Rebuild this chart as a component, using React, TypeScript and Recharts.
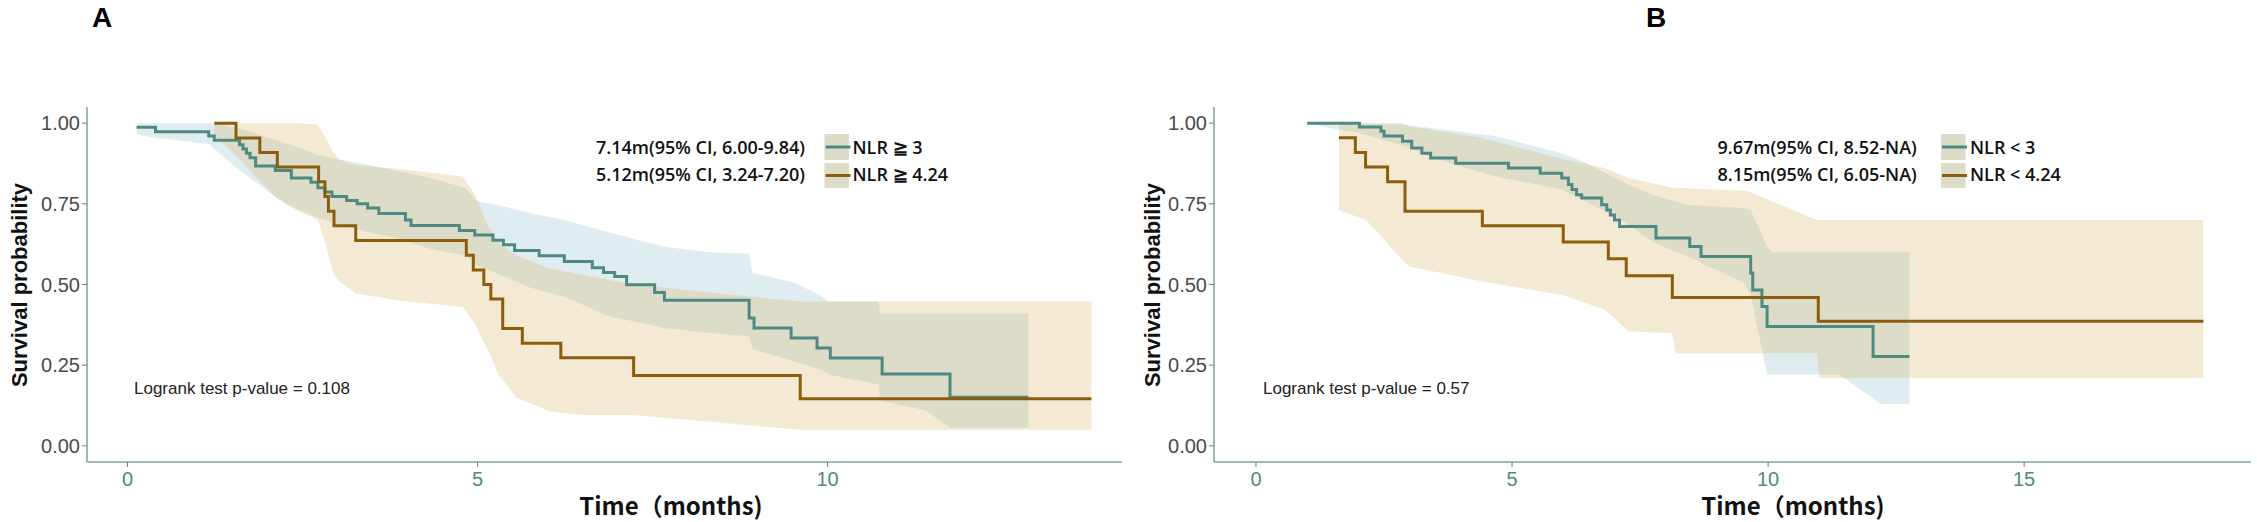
import { ComposedChart, Line, Area, XAxis, YAxis } from 'recharts';

// tick labels
const probTicks = [0, 0.25, 0.5, 0.75, 1];
const monthTicksA = [0, 5, 10];
const monthTicksB = [0, 5, 10, 15];

// Kaplan-Meier steps: [month, survival]
const nlrGe3 = [
  [0.13, 0.987], [0.4, 0.973], [1.16, 0.96], [1.24, 0.947], [1.6, 0.933], [1.65, 0.92],
  [1.7, 0.907], [1.75, 0.893], [1.83, 0.867], [2.11, 0.853], [2.34, 0.83], [2.62, 0.817],
  [2.72, 0.8], [2.82, 0.787], [2.92, 0.773], [3.13, 0.76], [3.28, 0.75], [3.43, 0.737],
  [3.59, 0.72], [3.97, 0.7], [4.05, 0.683], [4.74, 0.667], [4.96, 0.653], [5.22, 0.637],
  [5.37, 0.623], [5.53, 0.605], [5.88, 0.589], [6.24, 0.571], [6.64, 0.552], [6.8, 0.537],
  [6.96, 0.525], [7.13, 0.499], [7.53, 0.475], [7.67, 0.451], [8.88, 0.396], [8.95, 0.365],
  [9.48, 0.334], [9.85, 0.303], [10.04, 0.272], [10.78, 0.223], [11.75, 0.151], [12.87, 0.151],
];
const nlrGe424 = [
  [1.24, 1.0], [1.55, 0.954], [1.89, 0.909], [2.14, 0.864], [2.73, 0.818], [2.82, 0.773],
  [2.87, 0.727], [2.95, 0.682], [3.26, 0.636], [4.84, 0.591], [4.94, 0.545], [5.09, 0.5],
  [5.19, 0.455], [5.36, 0.364], [5.64, 0.318], [6.19, 0.273], [7.23, 0.218], [9.61, 0.146],
  [13.77, 0.146],
];
const nlrLt3 = [
  [1.0, 1.0], [2.02, 0.988], [2.44, 0.975], [2.5, 0.96], [2.86, 0.944], [3.04, 0.923],
  [3.24, 0.907], [3.41, 0.892], [3.9, 0.876], [4.93, 0.861], [5.55, 0.845], [5.97, 0.83],
  [6.1, 0.81], [6.17, 0.794], [6.26, 0.778], [6.36, 0.768], [6.75, 0.747], [6.85, 0.731],
  [6.92, 0.715], [7.0, 0.7], [7.1, 0.68], [7.81, 0.644], [8.47, 0.618], [8.69, 0.587],
  [9.66, 0.536], [9.7, 0.483], [9.88, 0.432], [9.98, 0.37], [12.05, 0.277], [12.76, 0.277],
];
const nlrLt424 = [
  [1.62, 0.955], [1.94, 0.909], [2.14, 0.864], [2.57, 0.818], [2.91, 0.727], [4.42, 0.682],
  [6.0, 0.632], [6.88, 0.58], [7.23, 0.527], [8.13, 0.46], [10.98, 0.386], [18.5, 0.386],
];

// 95% CI bands: [month, lower, upper]
const ciGe3 = [
  [0.13, 0.965, 1.0], [0.4, 0.955, 1.0], [1.16, 0.935, 1.0], [1.45, 0.88, 0.99],
  [1.75, 0.83, 0.975], [2.0, 0.79, 0.955], [2.3, 0.745, 0.935], [2.75, 0.705, 0.9],
  [3.2, 0.675, 0.88], [3.9, 0.64, 0.85], [4.33, 0.61, 0.83], [4.82, 0.59, 0.8],
  [5.0, 0.56, 0.757], [5.32, 0.53, 0.745], [5.76, 0.49, 0.721], [6.24, 0.462, 0.7],
  [6.9, 0.4, 0.66], [7.37, 0.38, 0.633], [7.67, 0.365, 0.617], [8.31, 0.35, 0.6],
  [8.88, 0.34, 0.595], [8.93, 0.3, 0.536], [9.55, 0.26, 0.504], [9.92, 0.235, 0.463],
  [10.02, 0.22, 0.447], [10.73, 0.19, 0.447], [10.75, 0.14, 0.41], [11.4, 0.11, 0.41],
  [11.75, 0.055, 0.41], [12.87, 0.055, 0.41],
];
const ciGe424 = [
  [1.24, 0.96, 1.0], [1.55, 0.9, 1.0], [1.85, 0.83, 1.0], [2.11, 0.77, 1.0],
  [2.42, 0.73, 1.0], [2.72, 0.7, 0.995], [2.84, 0.617, 0.95], [2.94, 0.535, 0.91],
  [3.02, 0.51, 0.887], [3.26, 0.473, 0.87], [3.79, 0.453, 0.86], [4.79, 0.43, 0.835],
  [4.96, 0.38, 0.78], [5.07, 0.33, 0.72], [5.16, 0.294, 0.68], [5.3, 0.221, 0.63],
  [5.56, 0.149, 0.59], [6.03, 0.107, 0.55], [6.5, 0.096, 0.53], [7.23, 0.096, 0.5],
  [9.61, 0.05, 0.447], [13.77, 0.05, 0.447],
];
const ciLt3 = [
  [1.0, 1.0, 1.0], [1.6, 0.98, 1.0], [2.0, 0.97, 1.0], [2.9, 0.93, 0.995],
  [3.4, 0.895, 0.985], [4.67, 0.835, 0.96], [5.97, 0.794, 0.907], [6.4, 0.76, 0.88],
  [7.14, 0.7, 0.82], [7.79, 0.628, 0.775], [8.44, 0.587, 0.746], [9.53, 0.504, 0.737],
  [9.66, 0.47, 0.73], [9.75, 0.4, 0.7], [9.98, 0.22, 0.618], [10.1, 0.22, 0.6],
  [11.4, 0.22, 0.6], [12.2, 0.13, 0.6], [12.76, 0.13, 0.6],
];
const ciLt424 = [
  [1.62, 0.73, 1.0], [2.15, 0.7, 1.0], [2.86, 0.577, 1.0], [2.99, 0.556, 0.99],
  [4.4, 0.51, 0.955], [5.97, 0.468, 0.89], [6.82, 0.422, 0.86], [7.27, 0.355, 0.83],
  [8.13, 0.349, 0.8], [8.19, 0.287, 0.8], [9.59, 0.287, 0.79], [10.95, 0.287, 0.7],
  [11.0, 0.21, 0.7], [18.5, 0.21, 0.7],
];

const TEAL = '#4f8a82';
const BROWN = '#8c5d0c';
const TEAL_FILL = '#7fb8c8';
const BROWN_FILL = '#d9b56b';
const AXIS = '#7fa2a2';
const SANS = '"Liberation Sans", Arial, sans-serif';
const LEGEND_FONT = '"Open Sans", "Noto Sans", sans-serif';

const toSteps = (rows: number[][]) => rows.map(([t, s]) => ({ t, s }));
const toBand = (rows: number[][]) => rows.map(([t, lo, hi]) => ({ t, band: [lo, hi] }));

type PanelProps = {
  left: number;
  width: number;
  domain: [number, number];
  ticks: number[];
  steps1: number[][];
  steps2: number[][];
  band1: number[][];
  band2: number[][];
};

function KmPanel({ left, width, domain, ticks, steps1, steps2, band1, band2 }: PanelProps) {
  return (
    <div style={{ position: 'absolute', left, top: 0 }}>
      <ComposedChart width={width} height={522} margin={{ top: 107, right: 6, bottom: 0, left: 27 }}>
        <XAxis
          dataKey="t"
          type="number"
          domain={domain}
          ticks={ticks}
          allowDataOverflow
          height={60}
          tickSize={5}
          tickMargin={5}
          axisLine={{ stroke: AXIS, strokeWidth: 1.5 }}
          tickLine={{ stroke: '#777' }}
          tick={{ fill: TEAL, fontSize: 20, fontFamily: SANS }}
        />
        <YAxis
          type="number"
          domain={[-0.05, 1.05]}
          ticks={probTicks}
          allowDataOverflow
          width={60}
          tickSize={5}
          tickFormatter={(v: number) => v.toFixed(2)}
          axisLine={{ stroke: AXIS, strokeWidth: 1.5 }}
          tickLine={{ stroke: '#777' }}
          tick={{ fill: '#4a4a4a', fontSize: 20, fontFamily: SANS }}
        />
        <Area data={toBand(band1)} dataKey="band" type="linear" stroke="none" fill={TEAL_FILL} fillOpacity={0.25} isAnimationActive={false} />
        <Area data={toBand(band2)} dataKey="band" type="linear" stroke="none" fill={BROWN_FILL} fillOpacity={0.3} isAnimationActive={false} />
        <Line data={toSteps(steps1)} dataKey="s" type="stepAfter" stroke={TEAL} strokeWidth={3} dot={false} isAnimationActive={false} />
        <Line data={toSteps(steps2)} dataKey="s" type="stepAfter" stroke={BROWN} strokeWidth={3} dot={false} isAnimationActive={false} />
      </ComposedChart>
    </div>
  );
}

function LegendKey({ x, y, h, color }: { x: number; y: number; h: number; color: string }) {
  return (
    <g>
      <rect x={x} y={y} width={24.5} height={h} fill={TEAL_FILL} fillOpacity={0.25} />
      <rect x={x} y={y} width={24.5} height={h} fill={BROWN_FILL} fillOpacity={0.3} />
      <line x1={x + 1} x2={x + 26} y1={y + h / 2} y2={y + h / 2} stroke={color} strokeWidth={3} />
    </g>
  );
}

function Annotations() {
  const legendText = { fontFamily: LEGEND_FONT, fontWeight: 600, fontSize: 18, fill: '#111' };
  const logrank = { fontFamily: SANS, fontSize: 17, fill: '#222' };
  const title = { fontFamily: '"Noto Sans CJK SC", sans-serif', fontWeight: 700, fontSize: 24, fill: '#111' };
  const ylab = { fontFamily: SANS, fontWeight: 700, fontSize: 22, fill: '#111' };
  return (
    <svg width={2257} height={522} style={{ position: 'absolute', left: 0, top: 0, pointerEvents: 'none' }}>
      <text x={102} y={27} textAnchor="middle" style={{ fontFamily: SANS, fontWeight: 700, fontSize: 28 }}>A</text>
      <text x={1656} y={27} textAnchor="middle" style={{ fontFamily: SANS, fontWeight: 700, fontSize: 28 }}>B</text>

      <text transform="translate(27,285) rotate(-90)" textAnchor="middle" style={ylab}>Survival probability</text>
      <text transform="translate(1160,285) rotate(-90)" textAnchor="middle" style={ylab}>Survival probability</text>

      <text x={671} y={515} textAnchor="middle" style={title}>Time（months)</text>
      <text x={1793} y={515} textAnchor="middle" style={title}>Time（months)</text>

      <text x={134} y={394} style={logrank}>Logrank test p-value = 0.108</text>
      <text x={1263} y={394} style={logrank}>Logrank test p-value = 0.57</text>

      <text x={596} y={154} style={legendText}>7.14m(95% CI, 6.00-9.84)</text>
      <text x={596} y={181} style={legendText}>5.12m(95% CI, 3.24-7.20)</text>
      <LegendKey x={824.5} y={134} h={26} color={TEAL} />
      <LegendKey x={824.5} y={163} h={25} color={BROWN} />
      <text x={852.5} y={154} style={legendText}>NLR ≧ 3</text>
      <text x={852.5} y={181} style={legendText}>NLR ≧ 4.24</text>

      <text x={1717.5} y={154} style={legendText}>9.67m(95% CI, 8.52-NA)</text>
      <text x={1717.5} y={181} style={legendText}>8.15m(95% CI, 6.05-NA)</text>
      <LegendKey x={1941} y={134} h={26} color={TEAL} />
      <LegendKey x={1941} y={163} h={25} color={BROWN} />
      <text x={1970} y={154} style={legendText}>NLR &lt; 3</text>
      <text x={1970} y={181} style={legendText}>NLR &lt; 4.24</text>
    </svg>
  );
}

export default function App() {
  return (
    <div style={{ position: 'absolute', left: 0, top: 0, width: 2257, height: 522, background: '#fff' }}>
      <KmPanel
        left={0}
        width={1128}
        domain={[-0.579, 14.207]}
        ticks={monthTicksA}
        steps1={nlrGe3}
        steps2={nlrGe424}
        band1={ciGe3}
        band2={ciGe424}
      />
      <KmPanel
        left={1127}
        width={1130}
        domain={[-0.82, 19.43]}
        ticks={monthTicksB}
        steps1={nlrLt3}
        steps2={nlrLt424}
        band1={ciLt3}
        band2={ciLt424}
      />
      <Annotations />
    </div>
  );
}
